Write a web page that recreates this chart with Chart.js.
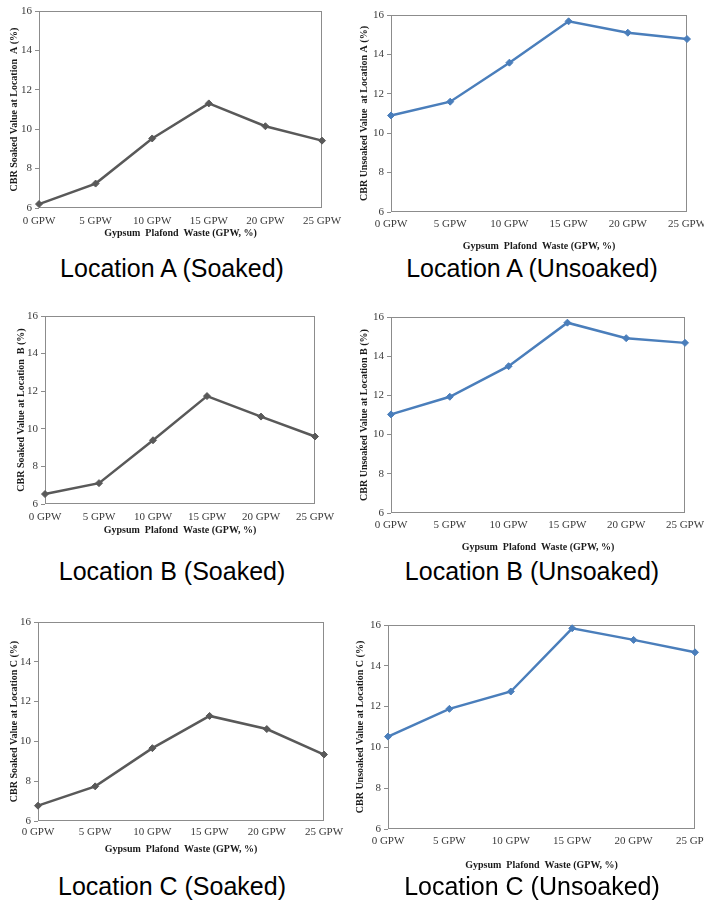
<!DOCTYPE html>
<html>
<head>
<meta charset="utf-8">
<script src="https://cdn.jsdelivr.net/npm/chart.js@4.4.0/dist/chart.umd.min.js"></script>
<style>
    html, body { margin: 0; padding: 0; background: #fff; width: 704px; height: 901px; overflow: hidden; }
    #page { position: relative; width: 704px; height: 901px; overflow: hidden; }
    #page canvas { position: absolute; }
    .caption {
        position: absolute; width: 340px; text-align: center;
        font-family: "Liberation Sans", Arial, sans-serif; font-size: 25px; line-height: 30px; color: #000;
    }
</style>
</head>
<body>
<div id="page"></div>
<script>
// chart values
const categories = ['0 GPW', '5 GPW', '10 GPW', '15 GPW', '20 GPW', '25 GPW'];
const soakedA = [6.2, 7.24, 9.53, 11.31, 10.15, 9.42];
const unsoakedA = [10.9, 11.6, 13.58, 15.68, 15.1, 14.78];
const soakedB = [6.53, 7.11, 9.39, 11.74, 10.65, 9.59];
const unsoakedB = [11.03, 11.93, 13.49, 15.71, 14.92, 14.68];
const soakedC = [6.77, 7.74, 9.66, 11.28, 10.62, 9.34];
const unsoakedC = [10.53, 11.89, 12.74, 15.84, 15.27, 14.66];
const yMin = 6;
const yMax = 16;
const yStep = 2;

const GREY = '#595959';
const BLUE = '#4a7ebb';
const FRAME = '#8c8c8c';
const SERIF = '"Liberation Serif", "Times New Roman", serif';

// where each plot box sits on the page
const panels = [
    { values: soakedA, color: GREY, yTitle: 'CBR Soaked Value at Location  A (%)', caption: 'Location A (Soaked)',
      plot: { l: 39, t: 11, r: 322, b: 208 }, yTitleX: 14, labelY: 221, titleY: 233, captionX: 172, captionY: 268 },
    { values: unsoakedA, color: BLUE, yTitle: 'CBR Unsoaked Value  at Location A (%)', caption: 'Location A (Unsoaked)',
      plot: { l: 391, t: 15, r: 687, b: 212 }, yTitleX: 364, labelY: 224, titleY: 246, captionX: 532, captionY: 268 },
    { values: soakedB, color: GREY, yTitle: 'CBR Soaked Value at Location  B (%)', caption: 'Location B (Soaked)',
      plot: { l: 45, t: 316, r: 315, b: 504 }, yTitleX: 21, labelY: 517, titleY: 530, captionX: 172, captionY: 571 },
    { values: unsoakedB, color: BLUE, yTitle: 'CBR Unsoaked Value at Location B (%)', caption: 'Location B (Unsoaked)',
      plot: { l: 391, t: 317, r: 685, b: 513 }, yTitleX: 364, labelY: 525, titleY: 547, captionX: 532, captionY: 571 },
    { values: soakedC, color: GREY, yTitle: 'CBR Soaked Value at Location C (%)', caption: 'Location C (Soaked)',
      plot: { l: 38, t: 622, r: 324, b: 821 }, yTitleX: 14, labelY: 832, titleY: 849, captionX: 172, captionY: 886 },
    { values: unsoakedC, color: BLUE, yTitle: 'CBR Unsoaked Value at Location C (%)', caption: 'Location C (Unsoaked)',
      plot: { l: 388, t: 625, r: 695, b: 829 }, yTitleX: 360, labelY: 841, titleY: 865, captionX: 532, captionY: 886 }
];

// box around the plot area
const framePlugin = {
    id: 'frame',
    beforeDatasetsDraw(chart) {
        const a = chart.chartArea;
        const ctx = chart.ctx;
        ctx.save();
        ctx.strokeStyle = FRAME;
        ctx.lineWidth = 1;
        ctx.strokeRect(a.left + 0.5, a.top + 0.5, a.right - a.left - 1, a.bottom - a.top - 1);
        ctx.restore();
    }
};

document.addEventListener('DOMContentLoaded', function() {
    panels.forEach(makePanel);
});

function makePanel(p) {
    const page = document.getElementById('page');
    const padTop = 8;
    const padRight = 24;
    const yW = p.plot.l - (p.yTitleX - 7);
    const xH = (p.titleY + 7) - p.plot.b;

    const canvas = document.createElement('canvas');
    canvas.width = (p.plot.r - p.plot.l) + yW + padRight;
    canvas.height = (p.plot.b - p.plot.t) + padTop + xH;
    canvas.style.left = (p.plot.l - yW) + 'px';
    canvas.style.top = (p.plot.t - padTop) + 'px';
    page.appendChild(canvas);

    const cap = document.createElement('div');
    cap.className = 'caption';
    cap.textContent = p.caption;
    cap.style.left = (p.captionX - 170) + 'px';
    cap.style.top = (p.captionY - 15) + 'px';
    page.appendChild(cap);

    new Chart(canvas.getContext('2d'), {
        type: 'line',
        data: {
            labels: categories,
            datasets: [{
                data: p.values,
                borderColor: p.color,
                backgroundColor: p.color,
                borderWidth: 2.5,
                pointStyle: 'rectRot',
                pointRadius: 3.5,
                pointBorderWidth: 1,
                tension: 0,
                clip: false
            }]
        },
        options: {
            responsive: false,
            animation: false,
            devicePixelRatio: 1,
            layout: { padding: { top: padTop, right: padRight, left: 0, bottom: 0 } },
            plugins: { legend: { display: false }, tooltip: { enabled: false } },
            scales: {
                x: {
                    offset: false,
                    grid: { display: false, drawTicks: false },
                    border: { display: false },
                    ticks: {
                        padding: (p.labelY - 6) - p.plot.b,
                        color: '#3a3a3a',
                        maxRotation: 0,
                        autoSkip: false,
                        font: { family: SERIF, size: 11 }
                    },
                    title: {
                        display: true,
                        text: 'Gypsum  Plafond  Waste (GPW, %)',
                        color: '#1a1a1a',
                        padding: { top: 0, bottom: 1 },
                        font: { family: SERIF, size: 10, weight: 'bold' }
                    },
                    afterFit: function(s) {
                        s.height = xH;
                        s.paddingLeft = 0;
                        s.paddingRight = 0;
                    }
                },
                y: {
                    min: yMin,
                    max: yMax,
                    grid: { drawOnChartArea: false, drawTicks: true, tickLength: 4, color: FRAME },
                    border: { display: false },
                    ticks: {
                        stepSize: yStep,
                        padding: 3,
                        color: '#3a3a3a',
                        font: { family: SERIF, size: 11 }
                    },
                    title: {
                        display: true,
                        text: p.yTitle,
                        color: '#1a1a1a',
                        padding: { top: 1, bottom: 0 },
                        font: { family: SERIF, size: 10, weight: 'bold' }
                    },
                    afterFit: function(s) {
                        s.width = yW;
                        s.paddingTop = 0;
                        s.paddingBottom = 0;
                    }
                }
            }
        },
        plugins: [framePlugin]
    });
}
</script>
</body>
</html>
